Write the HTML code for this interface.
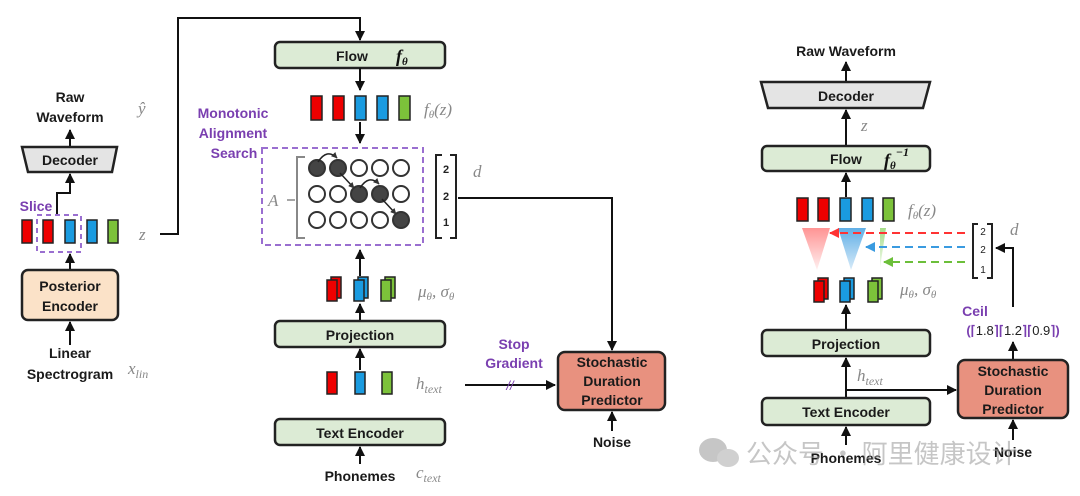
<!DOCTYPE html>
<html><head><meta charset="utf-8"><style>
html,body{margin:0;padding:0;background:#fff;}
svg{display:block;font-family:"Liberation Sans",sans-serif;}
.b{font-weight:bold;font-size:14px;fill:#1a1a1a;text-anchor:middle;}
.m{font-family:"Liberation Serif",serif;font-style:italic;fill:#888;font-size:17px;}
.p{font-weight:bold;font-size:14px;fill:#7a3fb0;text-anchor:middle;}
.box{stroke:#222;stroke-width:2.5;}
.ln{stroke:#111;stroke-width:2;fill:none;}
</style></head><body>
<svg width="1080" height="496" viewBox="0 0 1080 496">
<defs>
<marker id="ar" viewBox="0 0 10 10" refX="9" refY="5" markerWidth="5" markerHeight="5" orient="auto"><path d="M0,0 L10,5 L0,10 z" fill="#111"/></marker>
<marker id="ars" viewBox="0 0 10 10" refX="9" refY="5" markerWidth="4" markerHeight="4" orient="auto"><path d="M0,0 L10,5 L0,10 z" fill="#333"/></marker>
<marker id="arR" viewBox="0 0 10 10" refX="9" refY="5" markerWidth="5" markerHeight="5" orient="auto"><path d="M0,0 L10,5 L0,10 z" fill="#f33"/></marker>
<marker id="arB" viewBox="0 0 10 10" refX="9" refY="5" markerWidth="5" markerHeight="5" orient="auto"><path d="M0,0 L10,5 L0,10 z" fill="#3a9be0"/></marker>
<marker id="arG" viewBox="0 0 10 10" refX="9" refY="5" markerWidth="5" markerHeight="5" orient="auto"><path d="M0,0 L10,5 L0,10 z" fill="#6cbf3a"/></marker>
<linearGradient id="gr" x1="0" y1="0" x2="0" y2="1"><stop offset="0" stop-color="#f66" stop-opacity=".7"/><stop offset="1" stop-color="#f66" stop-opacity=".1"/></linearGradient>
<linearGradient id="gb" x1="0" y1="0" x2="0" y2="1"><stop offset="0" stop-color="#3a9be0" stop-opacity=".8"/><stop offset="1" stop-color="#3a9be0" stop-opacity=".2"/></linearGradient>
<linearGradient id="gg" x1="0" y1="0" x2="0" y2="1"><stop offset="0" stop-color="#8fd46a" stop-opacity=".8"/><stop offset="1" stop-color="#8fd46a" stop-opacity=".1"/></linearGradient>
</defs>

<!-- LEFT -->
<text class="b" x="70" y="102">Raw</text>
<text class="b" x="70" y="122">Waveform</text>
<text class="m" x="138" y="114">ŷ</text>
<line class="ln" x1="70" y1="147" x2="70" y2="130" marker-end="url(#ar)"/>
<polygon points="22,147 117,147 112,172 28,172" fill="#e4e4e4" class="box"/>
<text class="b" x="70" y="165">Decoder</text>
<polyline class="ln" points="57,215 57,193 70,193 70,174" marker-end="url(#ar)"/>
<text class="p" x="36" y="211">Slice</text>
<rect x="22" y="220" width="10" height="23" fill="#e00" stroke="#222" stroke-width="1.5"/>
<rect x="43" y="220" width="10" height="23" fill="#e00" stroke="#222" stroke-width="1.5"/>
<rect x="65" y="220" width="10" height="23" fill="#1a9be0" stroke="#222" stroke-width="1.5"/>
<rect x="87" y="220" width="10" height="23" fill="#1a9be0" stroke="#222" stroke-width="1.5"/>
<rect x="108" y="220" width="10" height="23" fill="#7cc23a" stroke="#222" stroke-width="1.5"/>
<rect x="37" y="215" width="44" height="37" fill="none" stroke="#9a6fd0" stroke-width="2" stroke-dasharray="5,4"/>
<text class="m" x="139" y="240">z</text>
<polyline class="ln" points="160,234 178,234 178,18 360,18 360,40" marker-end="url(#ar)"/>
<line class="ln" x1="70" y1="270" x2="70" y2="254" marker-end="url(#ar)"/>
<rect x="22" y="270" width="96" height="50" rx="6" fill="#fbe2c8" class="box"/>
<text class="b" x="70" y="291">Posterior</text>
<text class="b" x="70" y="311">Encoder</text>
<line class="ln" x1="70" y1="345" x2="70" y2="322" marker-end="url(#ar)"/>
<text class="b" x="70" y="358">Linear</text>
<text class="b" x="70" y="379">Spectrogram</text>
<text class="m" x="128" y="374">x<tspan font-size="12" dy="4">lin</tspan></text>

<!-- MIDDLE -->
<rect x="275" y="42" width="170" height="26" rx="5" fill="#dcebd5" class="box"/>
<text class="b" x="352" y="61">Flow</text>
<text x="396" y="62" font-family="Liberation Serif,serif" font-style="italic" font-weight="bold" font-size="18" fill="#111">f<tspan font-size="11" dy="3">θ</tspan></text>
<line class="ln" x1="360" y1="68" x2="360" y2="90" marker-end="url(#ar)"/>
<g stroke="#222" stroke-width="1.5">
<rect x="311" y="96" width="11" height="24" fill="#e00"/>
<rect x="333" y="96" width="11" height="24" fill="#e00"/>
<rect x="355" y="96" width="11" height="24" fill="#1a9be0"/>
<rect x="377" y="96" width="11" height="24" fill="#1a9be0"/>
<rect x="399" y="96" width="11" height="24" fill="#7cc23a"/>
</g>
<text class="m" x="424" y="115">f<tspan font-size="11" dy="3">θ</tspan><tspan dy="-3">(z)</tspan></text>
<line class="ln" x1="360" y1="122" x2="360" y2="143" marker-end="url(#ar)"/>
<text class="p" x="233" y="118">Monotonic</text>
<text class="p" x="233" y="138">Alignment</text>
<text class="p" x="234" y="158">Search</text>
<rect x="262" y="148" width="161" height="97" fill="none" stroke="#9a6fd0" stroke-width="2" stroke-dasharray="6,4"/>
<text class="m" x="268" y="206">A</text>
<line x1="287" y1="200" x2="295" y2="200" stroke="#888" stroke-width="1.5"/>
<polyline points="305,157 297,157 297,238 305,238" fill="none" stroke="#888" stroke-width="2"/>
<g stroke="#333" stroke-width="2" fill="#fff">
<circle cx="317" cy="168" r="8" fill="#444"/><circle cx="338" cy="168" r="8" fill="#444"/><circle cx="359" cy="168" r="8"/><circle cx="380" cy="168" r="8"/><circle cx="401" cy="168" r="8"/>
<circle cx="317" cy="194" r="8"/><circle cx="338" cy="194" r="8"/><circle cx="359" cy="194" r="8" fill="#444"/><circle cx="380" cy="194" r="8" fill="#444"/><circle cx="401" cy="194" r="8"/>
<circle cx="317" cy="220" r="8"/><circle cx="338" cy="220" r="8"/><circle cx="359" cy="220" r="8"/><circle cx="380" cy="220" r="8"/><circle cx="401" cy="220" r="8" fill="#444"/>
</g>
<g stroke="#222" stroke-width="1.5" fill="none">
<path d="M318,162 Q327,148 337,158" marker-end="url(#ars)"/>
<line x1="340" y1="173" x2="354" y2="188" marker-end="url(#ars)"/>
<path d="M360,188 Q369,174 379,184" marker-end="url(#ars)"/>
<line x1="382" y1="199" x2="396" y2="214" marker-end="url(#ars)"/>
</g>
<polyline points="442,155 436,155 436,238 442,238" fill="none" stroke="#222" stroke-width="2"/>
<polyline points="450,155 456,155 456,238 450,238" fill="none" stroke="#222" stroke-width="2"/>
<text x="446" y="173" font-size="11" font-weight="bold" text-anchor="middle" fill="#222">2</text>
<text x="446" y="200" font-size="11" font-weight="bold" text-anchor="middle" fill="#222">2</text>
<text x="446" y="226" font-size="11" font-weight="bold" text-anchor="middle" fill="#222">1</text>
<text class="m" x="473" y="177">d</text>
<polyline class="ln" points="458,198 612,198 612,350" marker-end="url(#ar)"/>
<line class="ln" x1="360" y1="276" x2="360" y2="250" marker-end="url(#ar)"/>
<g stroke="#222" stroke-width="1.5">
<rect x="331" y="277" width="10" height="21" fill="#e00"/><rect x="327" y="280" width="10" height="21" fill="#e00"/>
<rect x="358" y="277" width="10" height="21" fill="#1a9be0"/><rect x="354" y="280" width="10" height="21" fill="#1a9be0"/>
<rect x="385" y="277" width="10" height="21" fill="#7cc23a"/><rect x="381" y="280" width="10" height="21" fill="#7cc23a"/>
</g>
<text class="m" x="418" y="297">μ<tspan font-size="11" dy="3">θ</tspan><tspan dy="-3">, σ</tspan><tspan font-size="11" dy="3">θ</tspan></text>
<line class="ln" x1="360" y1="321" x2="360" y2="304" marker-end="url(#ar)"/>
<rect x="275" y="321" width="170" height="26" rx="5" fill="#dcebd5" class="box"/>
<text class="b" x="360" y="340">Projection</text>
<line class="ln" x1="360" y1="370" x2="360" y2="349" marker-end="url(#ar)"/>
<g stroke="#222" stroke-width="1.5">
<rect x="327" y="372" width="10" height="22" fill="#e00"/>
<rect x="355" y="372" width="10" height="22" fill="#1a9be0"/>
<rect x="382" y="372" width="10" height="22" fill="#7cc23a"/>
</g>
<text class="m" x="416" y="389">h<tspan font-size="12" dy="4">text</tspan></text>
<line class="ln" x1="465" y1="385" x2="555" y2="385" marker-end="url(#ar)"/>
<text x="510" y="390" font-size="13" font-style="italic" fill="#7a3fb0" text-anchor="middle">//</text>
<text class="p" x="514" y="349">Stop</text>
<text class="p" x="514" y="368">Gradient</text>
<rect x="558" y="352" width="107" height="58" rx="7" fill="#e8917f" class="box"/>
<text class="b" x="612" y="367">Stochastic</text>
<text class="b" x="612" y="386">Duration</text>
<text class="b" x="612" y="405">Predictor</text>
<line class="ln" x1="612" y1="431" x2="612" y2="412" marker-end="url(#ar)"/>
<text class="b" x="612" y="447">Noise</text>
<line class="ln" x1="360" y1="464" x2="360" y2="447" marker-end="url(#ar)"/>
<rect x="275" y="419" width="170" height="26" rx="5" fill="#dcebd5" class="box"/>
<text class="b" x="360" y="438">Text Encoder</text>
<text class="b" x="360" y="481">Phonemes</text>
<text class="m" x="416" y="478">c<tspan font-size="12" dy="4">text</tspan></text>

<!-- RIGHT -->
<text class="b" x="846" y="56">Raw Waveform</text>
<line class="ln" x1="846" y1="82" x2="846" y2="62" marker-end="url(#ar)"/>
<polygon points="761,82 930,82 923,108 768,108" fill="#e4e4e4" class="box"/>
<text class="b" x="846" y="101">Decoder</text>
<line class="ln" x1="846" y1="146" x2="846" y2="110" marker-end="url(#ar)"/>
<text class="m" x="861" y="131">z</text>
<rect x="762" y="146" width="168" height="25" rx="5" fill="#dcebd5" class="box"/>
<text class="b" x="846" y="164">Flow</text>
<text x="884" y="166" font-family="Liberation Serif,serif" font-style="italic" font-weight="bold" font-size="18" fill="#111">f<tspan font-size="11" dy="3">θ</tspan><tspan font-size="12" dy="-13">−1</tspan></text>
<line class="ln" x1="846" y1="197" x2="846" y2="173" marker-end="url(#ar)"/>
<g stroke="#222" stroke-width="1.5">
<rect x="797" y="198" width="11" height="23" fill="#e00"/>
<rect x="818" y="198" width="11" height="23" fill="#e00"/>
<rect x="840" y="198" width="11" height="23" fill="#1a9be0"/>
<rect x="862" y="198" width="11" height="23" fill="#1a9be0"/>
<rect x="883" y="198" width="11" height="23" fill="#7cc23a"/>
</g>
<text class="m" x="908" y="216">f<tspan font-size="11" dy="3">θ</tspan><tspan dy="-3">(z)</tspan></text>
<polygon points="802,228 830,228 817,270" fill="url(#gr)"/>
<polygon points="838,228 866,228 851,270" fill="url(#gb)"/>
<polygon points="880,228 886,228 880,268" fill="url(#gg)"/>
<line x1="965" y1="233" x2="830" y2="233" stroke="#f33" stroke-width="2" stroke-dasharray="8,5" marker-end="url(#arR)"/>
<line x1="965" y1="247" x2="866" y2="247" stroke="#3a9be0" stroke-width="2" stroke-dasharray="8,5" marker-end="url(#arB)"/>
<line x1="965" y1="262" x2="884" y2="262" stroke="#6cbf3a" stroke-width="2" stroke-dasharray="8,5" marker-end="url(#arG)"/>
<polyline points="978,224 973,224 973,278 978,278" fill="none" stroke="#222" stroke-width="2"/>
<polyline points="987,224 992,224 992,278 987,278" fill="none" stroke="#222" stroke-width="2"/>
<text x="983" y="235" font-size="10" text-anchor="middle" fill="#222">2</text>
<text x="983" y="253" font-size="10" text-anchor="middle" fill="#222">2</text>
<text x="983" y="273" font-size="10" text-anchor="middle" fill="#222">1</text>
<text class="m" x="1010" y="235">d</text>
<polyline class="ln" points="1013,307 1013,248 996,248" marker-end="url(#ar)"/>
<g stroke="#222" stroke-width="1.5">
<rect x="818" y="278" width="10" height="21" fill="#e00"/><rect x="814" y="281" width="10" height="21" fill="#e00"/>
<rect x="844" y="278" width="10" height="21" fill="#1a9be0"/><rect x="840" y="281" width="10" height="21" fill="#1a9be0"/>
<rect x="872" y="278" width="10" height="21" fill="#7cc23a"/><rect x="868" y="281" width="10" height="21" fill="#7cc23a"/>
</g>
<text class="m" x="900" y="295">μ<tspan font-size="11" dy="3">θ</tspan><tspan dy="-3">, σ</tspan><tspan font-size="11" dy="3">θ</tspan></text>
<line class="ln" x1="846" y1="329" x2="846" y2="305" marker-end="url(#ar)"/>
<text class="p" x="975" y="316" font-size="13">Ceil</text>
<text x="1013" y="335" font-size="13" text-anchor="middle" fill="#222"><tspan fill="#7a3fb0" font-weight="bold">(⌈</tspan>1.8<tspan fill="#7a3fb0" font-weight="bold">⌉⌈</tspan>1.2<tspan fill="#7a3fb0" font-weight="bold">⌉⌈</tspan>0.9<tspan fill="#7a3fb0" font-weight="bold">⌉)</tspan></text>
<line class="ln" x1="1013" y1="360" x2="1013" y2="342" marker-end="url(#ar)"/>
<rect x="762" y="330" width="168" height="26" rx="5" fill="#dcebd5" class="box"/>
<text class="b" x="846" y="349">Projection</text>
<line class="ln" x1="846" y1="398" x2="846" y2="358" marker-end="url(#ar)"/>
<text class="m" x="857" y="381">h<tspan font-size="12" dy="4">text</tspan></text>
<line class="ln" x1="846" y1="390" x2="956" y2="390" marker-end="url(#ar)"/>
<rect x="958" y="360" width="110" height="58" rx="7" fill="#e8917f" class="box"/>
<text class="b" x="1013" y="376">Stochastic</text>
<text class="b" x="1013" y="395">Duration</text>
<text class="b" x="1013" y="414">Predictor</text>
<rect x="762" y="398" width="168" height="27" rx="5" fill="#dcebd5" class="box"/>
<text class="b" x="846" y="417">Text Encoder</text>
<line class="ln" x1="846" y1="445" x2="846" y2="427" marker-end="url(#ar)"/>
<line class="ln" x1="1013" y1="440" x2="1013" y2="420" marker-end="url(#ar)"/>
<text class="b" x="846" y="463">Phonemes</text>
<text class="b" x="1013" y="457">Noise</text>
<!-- watermark -->
<g opacity="0.55" fill="#999">
<ellipse cx="713" cy="450" rx="14" ry="12"/>
<ellipse cx="728" cy="458" rx="11" ry="9" fill="#aaa"/>
<text x="746" y="463" font-family="Noto Sans CJK SC,sans-serif" font-size="26" fill="#999">公众号 · 阿里健康设计</text>
</g>
</svg>
</body></html>
